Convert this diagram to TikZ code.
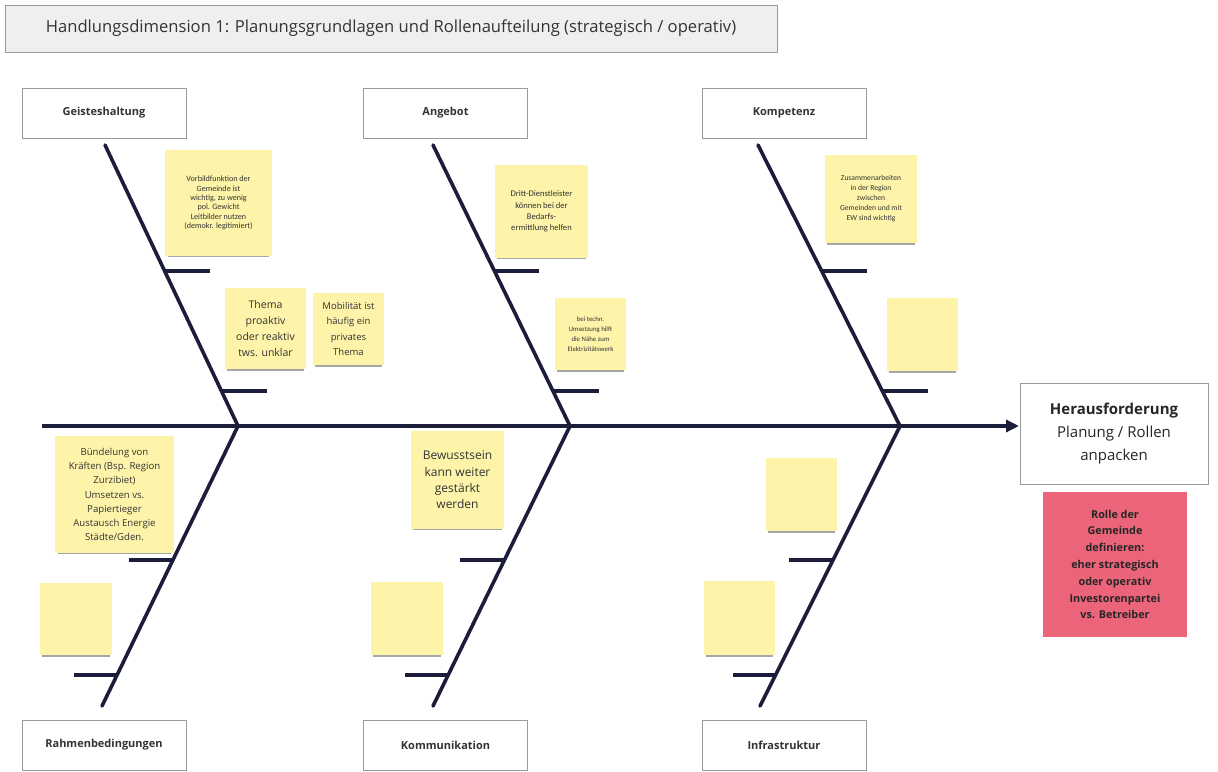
\documentclass[tikz,border=0pt]{standalone}
\usepackage{fontspec}
\setmainfont{Open Sans}
\newfontfamily\calfont{Carlito}
\usetikzlibrary{arrows.meta,calc,shadows}
\definecolor{stickyY}{HTML}{FDF4A9}
\definecolor{stickyP}{HTML}{EB6479}
\definecolor{bone}{HTML}{1C1D3A}
\definecolor{boxline}{HTML}{9A9A9A}
\definecolor{titlefill}{HTML}{EFEFEF}
\definecolor{txt}{HTML}{333333}
\tikzset{
  catbox/.style={draw=boxline,line width=0.8pt,fill=white,minimum width=164pt,minimum height=50pt,inner sep=0pt,font=\fontsize{11}{13}\selectfont\bfseries,text=txt},
  sticky/.style={fill=stickyY,inner sep=0pt,align=center,text=txt,
    drop shadow={shadow xshift=0pt,shadow yshift=-4pt,shadow scale=0.95,opacity=0.35,fill=black}},
  bonel/.style={draw=bone,line width=3.6pt},
  ribl/.style={draw=bone,line width=3.4pt},
}
\begin{document}
\begin{tikzpicture}[x=1pt,y=-1pt]
\useasboundingbox (0,0) rectangle (1218,771);
\fill[white] (0,0) rectangle (1218,771);
% title
\node[draw=boxline,fill=titlefill,line width=0.8pt,minimum width=772pt,minimum height=47pt,inner sep=0pt,font=\fontsize{16.6}{19}\selectfont,text=txt] (title) at (391,28.5) {Handlungsdimension 1: Planungsgrundlagen und Rollenaufteilung (strategisch / operativ)};
% category boxes
\node[catbox] (geist) at (104,113) {Geisteshaltung};
\node[catbox] (angebot) at (445.5,113) {Angebot};
\node[catbox] (komp) at (784,113) {Kompetenz};
\node[catbox] (rahmen) at (104,745) {Rahmenbedingungen};
\node[catbox] (kommu) at (445.5,745) {Kommunikation};
\node[catbox] (infra) at (784,745) {Infrastruktur};
% head
\node[draw=boxline,line width=0.8pt,fill=white,minimum width=188pt,minimum height=101pt,inner sep=0pt,align=center,font=\fontsize{15}{23}\selectfont,text=black!85] (head) at (1114,433.5) {\textbf{Herausforderung}\\Planung / Rollen\\anpacken};
% coordinates
\coordinate (spL) at (42,426);
\coordinate (spR) at (1019,426);
\coordinate (j1) at (238,426);
\coordinate (j2) at (570,426);
\coordinate (j3) at (900,426);
\coordinate (t1) at (105,145);
\coordinate (t2) at (433,145);
\coordinate (t3) at (758,145);
\coordinate (b1) at (102,706);
\coordinate (b2) at (433,706);
\coordinate (b3) at (760,706);
% bones
\draw[bonel,line cap=round] (t1) -- (j1) -- (b1);
\draw[bonel,line cap=round] (t2) -- (j2) -- (b2);
\draw[bonel,line cap=round] (t3) -- (j3) -- (b3);
% ribs top
\foreach \t/\j in {t1/j1,t2/j2,t3/j3}{
  \coordinate (ra) at ($(\t)!0.448!(\j)$);
  \coordinate (rb) at ($(\t)!0.875!(\j)$);
  \draw[ribl] (ra) -- ++(45,0);
  \draw[ribl] (rb) -- ++(46,0);
}
% ribs bottom
\foreach \j/\b in {j1/b1,j2/b2,j3/b3}{
  \coordinate (rc) at ($(\j)!0.479!(\b)$);
  \coordinate (rd) at ($(\j)!0.889!(\b)$);
  \draw[ribl] (rc) -- ++(-44,0);
  \draw[ribl] (rd) -- ++(-43,0);
}
% spine
\draw[bone,line width=3.6pt,-{Triangle[length=13pt,width=12pt]}] (spL) -- (spR);
% stickies
\node[sticky,minimum width=107pt,minimum height=106pt,font=\calfont\fontsize{8.1}{9.4}\selectfont] (s1) at (218.5,203) {Vorbildfunktion der\\Gemeinde ist\\wichtig, zu wenig\\pol. Gewicht\\Leitbilder nutzen\\(demokr. legitimiert)};
\node[sticky,minimum width=81pt,minimum height=81pt,font=\fontsize{10.5}{16}\selectfont] (s2) at (265.5,328.5) {Thema\\proaktiv\\oder reaktiv\\tws. unklar};
\node[sticky,minimum width=71pt,minimum height=72pt,font=\fontsize{9.5}{15.5}\selectfont] (s3) at (348.5,329) {Mobilität ist\\häufig ein\\privates\\Thema};
\node[sticky,minimum width=93pt,minimum height=93pt,font=\calfont\fontsize{8.6}{11.2}\selectfont] (s4) at (541.5,211.5) {Dritt-Dienstleister\\können bei der\\Bedarfs-\\ermittlung helfen};
\node[sticky,minimum width=71pt,minimum height=72pt,font=\calfont\fontsize{6.8}{9.8}\selectfont] (s5) at (590.5,334) {bei techn.\\Umsetzung hilft\\die Nähe zum\\Elektrizitätswerk};
\node[sticky,minimum width=92pt,minimum height=88pt,font=\calfont\fontsize{7.6}{10}\selectfont] (s6) at (871,199) {Zusammenarbeiten\\in der Region\\zwischen\\Gemeinden und mit\\EW sind wichtig};
\node[sticky,minimum width=71pt,minimum height=73pt] (s7) at (922.5,334.5) {};
\node[sticky,minimum width=119pt,minimum height=117pt,font=\fontsize{9.6}{14.3}\selectfont] (s8) at (114.5,494.5) {Bündelung von\\Kräften (Bsp. Region\\Zurzibiet)\\Umsetzen vs.\\Papiertieger\\Austausch Energie\\Städte/Gden.};
\node[sticky,minimum width=93pt,minimum height=98pt,font=\fontsize{12}{16.3}\selectfont] (s9) at (457.5,480) {Bewusstsein\\kann weiter\\gestärkt\\werden};
\node[sticky,minimum width=72pt,minimum height=72pt] (s10) at (76,619) {};
\node[sticky,minimum width=72pt,minimum height=73pt] (s11) at (407,618.5) {};
\node[sticky,minimum width=71pt,minimum height=73pt] (s12) at (801.5,494.5) {};
\node[sticky,minimum width=71pt,minimum height=74pt] (s13) at (739.5,618) {};
\node[sticky,fill=stickyP,text=black!85,minimum width=144pt,minimum height=145pt,font=\fontsize{10.8}{16.8}\selectfont\bfseries] (pink) at (1115,564.5) {Rolle der\\Gemeinde\\definieren:\\eher strategisch\\oder operativ\\Investorenpartei\\vs. Betreiber};
\end{tikzpicture}
\end{document}
